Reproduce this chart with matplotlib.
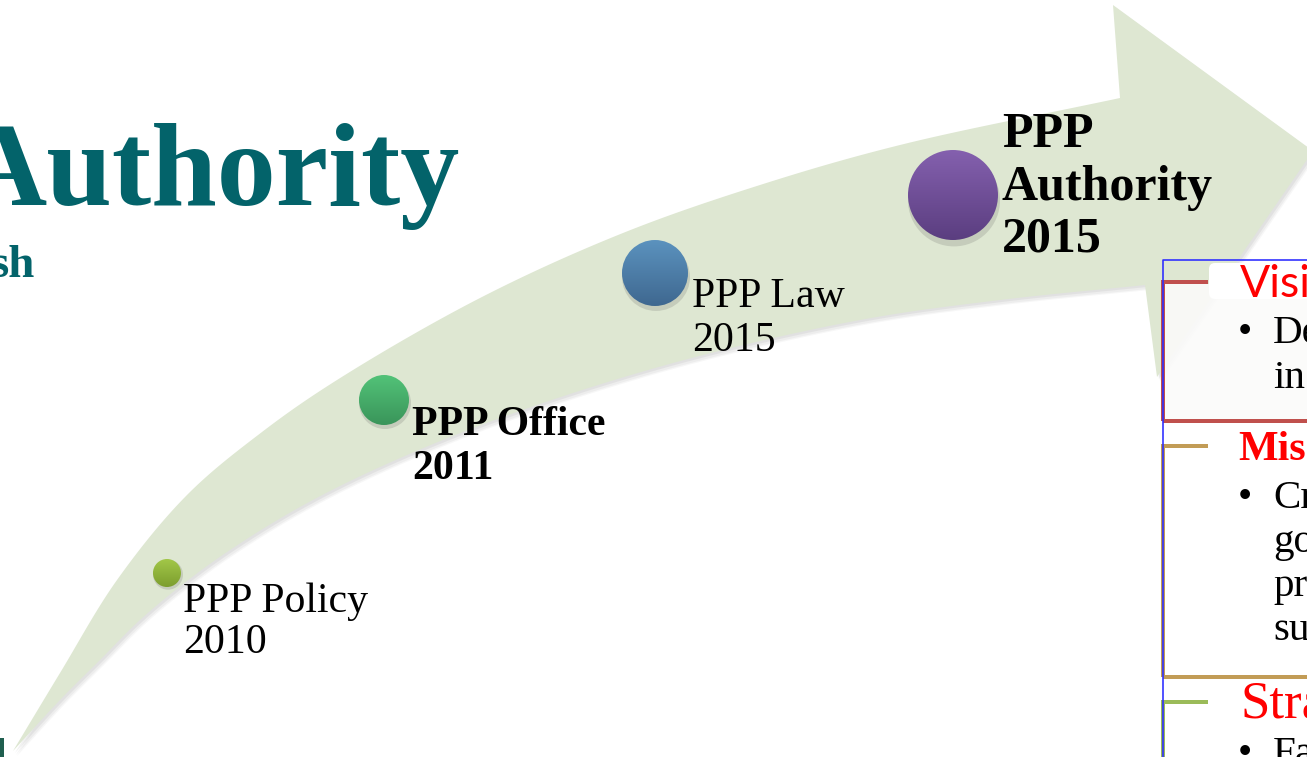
import numpy as np
import matplotlib
matplotlib.use("Agg")
import matplotlib.pyplot as plt
from matplotlib.patches import Polygon, Circle, Rectangle, FancyBboxPatch, Ellipse

# ---------------- data ----------------
milestone_titles = [["PPP Policy"], ["PPP Office"], ["PPP Law"], ["PPP", "Authority"]]
milestone_years = ["2010", "2011", "2015", "2015"]
milestone_bold = [False, True, False, True]
title_text = "Authority"
subtitle_text = "sh"
vision_head = "Visi"
vision_lines = ["De", "in"]
mission_head = "Mis"
mission_lines = ["Cr", "go", "pr", "su"]
strategy_head = "Stra"
strategy_lines = ["Fa"]

# ---------------- layout ----------------
W, H = 1307, 757
fig = plt.figure(figsize=(W / 100, H / 100), dpi=100)
ax = fig.add_axes([0, 0, 1, 1])
ax.set_xlim(0, W)
ax.set_ylim(H, 0)
ax.axis("off")

PX = 0.72  # px -> pt
SERIF = "Liberation Serif"
TEAL = "#03636a"


def centripetal(pts, n=20, alpha=0.5):
    pts = np.asarray(pts, float)
    P = np.vstack([2 * pts[0] - pts[1], pts, 2 * pts[-1] - pts[-2]])
    out = []
    for i in range(1, len(P) - 2):
        p0, p1, p2, p3 = P[i - 1], P[i], P[i + 1], P[i + 2]
        t0 = 0.0
        t1 = t0 + np.linalg.norm(p1 - p0) ** alpha
        t2 = t1 + np.linalg.norm(p2 - p1) ** alpha
        t3 = t2 + np.linalg.norm(p3 - p2) ** alpha
        for t in np.linspace(t1, t2, n, endpoint=False):
            A1 = (t1 - t) / (t1 - t0) * p0 + (t - t0) / (t1 - t0) * p1
            A2 = (t2 - t) / (t2 - t1) * p1 + (t - t1) / (t2 - t1) * p2
            A3 = (t3 - t) / (t3 - t2) * p2 + (t - t2) / (t3 - t2) * p3
            B1 = (t2 - t) / (t2 - t0) * A1 + (t - t0) / (t2 - t0) * A2
            B2 = (t3 - t) / (t3 - t1) * A2 + (t - t1) / (t3 - t1) * A3
            out.append((t2 - t) / (t2 - t1) * B1 + (t - t1) / (t2 - t1) * B2)
    out.append(P[-2])
    return np.array(out)


upper = centripetal([(13, 751), (60, 673), (117, 580), (187, 495), (262, 432), (337, 380),
                     (480, 298), (623, 233), (760, 185), (900, 145), (1120, 98)])
lower = centripetal([(13, 751), (60, 700), (100, 660), (140, 620), (187, 581), (233, 548),
                     (300, 507), (380, 467), (500, 418), (673, 363), (860, 320), (1000, 300), (1145, 285)])
head = np.array([(1113, 5), (1313, 151), (1157, 377)])
arrow_pts = np.vstack([upper, head, lower[::-1]])

# soft shadow
for dx, dy, a in [(4, 5, 0.06), (3, 4, 0.08), (2, 2, 0.10)]:
    ax.add_patch(Polygon(arrow_pts + np.array([dx, dy]), closed=True, facecolor="#7f7f7f",
                         edgecolor="none", alpha=a, zorder=1))
ax.add_patch(Polygon(arrow_pts, closed=True, facecolor="#dee7d2", edgecolor="none", zorder=2))

# milestone circles
centers = [(167, 573), (384, 400), (655, 273), (953, 195)]
radii = [14, 25, 33, 45]
grad_cols = [("#a2c748", "#7c9e2e"), ("#52c278", "#3a955a"), ("#5b92be", "#3f6890"), ("#8460ae", "#5b3e80")]
for (cx, cy), r, (c1, c2) in zip(centers, radii, grad_cols):
    ax.add_patch(Ellipse((cx + 1, cy + r * 0.12), 2 * r + 2, 2 * r + 2, facecolor="#555555",
                         alpha=0.18, edgecolor="none", zorder=3))
    a = np.array(matplotlib.colors.to_rgb(c1))
    b = np.array(matplotlib.colors.to_rgb(c2))
    t = np.linspace(0, 1, 64)[:, None]
    img = (a * (1 - t) + b * t)[:, None, :].repeat(2, axis=1)
    circ = Circle((cx, cy), r, transform=ax.transData, facecolor="none", edgecolor="none")
    ax.add_patch(circ)
    im = ax.imshow(img, extent=[cx - r, cx + r, cy + r, cy - r], origin="upper",
                   interpolation="bilinear", zorder=4)
    im.set_clip_path(circ)

# milestone labels
label_x = [183, 412, 692, 1002]
label_base = [[612, 653], [435, 479], [307, 351], [147, 200, 251]]
label_px = [41.7, 41.7, 41.7, 50.0]
for titles, year, bold, x, bases, px in zip(milestone_titles, milestone_years, milestone_bold,
                                             label_x, label_base, label_px):
    for line, yb in zip(titles + [year], bases):
        ax.text(x, yb, line, fontsize=px * PX, family=SERIF,
                fontweight="bold" if bold else "normal", va="baseline", ha="left",
                color="black", zorder=5)

# title fragments
ax.text(460, 205, title_text, fontsize=118 * PX, family=SERIF, fontweight="bold", color=TEAL,
        va="baseline", ha="right", zorder=5)
ax.text(35, 277, subtitle_text, fontsize=47 * PX, family=SERIF, fontweight="bold", color=TEAL,
        va="baseline", ha="right", zorder=5)
ax.add_patch(Rectangle((0, 738), 4, 20, facecolor="#1f5f4f", edgecolor="none", zorder=5))

# right-hand boxes
ax.add_patch(Rectangle((1165, 284), W - 1165, 135, facecolor="#fbfbfa", alpha=0.9,
                       edgecolor="none", zorder=6))
ax.add_patch(Rectangle((1165, 423), W - 1165, 252, facecolor="white", edgecolor="none", zorder=6))
ax.add_patch(Rectangle((1165, 679), W - 1165, 80, facecolor="white", edgecolor="none", zorder=6))


def bracket(y_top, y_bot, color):
    lw = 4 * PX
    ax.plot([1208, 1163, 1163], [y_top, y_top, y_bot if y_bot else H + 5], color=color, lw=lw,
            solid_capstyle="butt", solid_joinstyle="miter", zorder=7)
    if y_bot:
        ax.plot([1163, W + 5], [y_bot, y_bot], color=color, lw=lw, solid_capstyle="butt", zorder=7)


bracket(282, 421, "#c0504d")
bracket(446, 677, "#c29c56")
bracket(702, None, "#9bbb59")

ax.add_patch(FancyBboxPatch((1209, 263), 120, 36, boxstyle="round,pad=0,rounding_size=6",
                            facecolor="white", edgecolor="none", zorder=8))
ax.plot([1163, 1163, W + 5], [H + 5, 260, 260], color="#2b2bff", lw=1.6 * PX, zorder=9)

BODY = 41 * PX
ax.text(1240, 297, vision_head, fontsize=44.7 * PX, family="Lato", color="red",
        va="baseline", ha="left", zorder=10)
for line, yb in zip(vision_lines, [343, 388]):
    ax.text(1273, yb, line, fontsize=BODY, family=SERIF, color="black", va="baseline", zorder=10)
ax.text(1238, 343, "\u2022", fontsize=BODY, family=SERIF, color="black", va="baseline", zorder=10)

ax.text(1238, 460, mission_head, fontsize=42 * PX, family=SERIF, fontweight="bold", color="red",
        va="baseline", ha="left", zorder=10)
for line, yb in zip(mission_lines, [508, 552, 596, 640]):
    ax.text(1273, yb, line, fontsize=BODY, family=SERIF, color="black", va="baseline", zorder=10)
ax.text(1238, 508, "\u2022", fontsize=BODY, family=SERIF, color="black", va="baseline", zorder=10)

ax.text(1240, 718, strategy_head, fontsize=53 * PX, family=SERIF, color="red",
        va="baseline", ha="left", zorder=10)
for line, yb in zip(strategy_lines, [764]):
    ax.text(1273, yb, line, fontsize=BODY, family=SERIF, color="black", va="baseline", zorder=10)
ax.text(1238, 764, "\u2022", fontsize=BODY, family=SERIF, color="black", va="baseline", zorder=10)

ax.set_xlim(0, W)
ax.set_ylim(H, 0)
ax.set_aspect("auto")
fig.savefig("out.png", dpi=100)
